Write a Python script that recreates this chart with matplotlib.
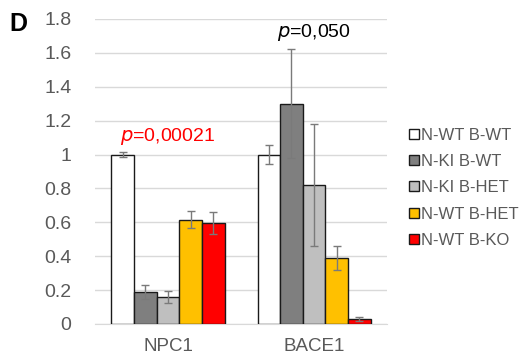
import matplotlib
matplotlib.use("Agg")
import matplotlib.pyplot as plt
import numpy as np
from matplotlib.lines import Line2D

categories = ["NPC1", "BACE1"]
series = ["N-WT B-WT", "N-KI B-WT", "N-KI B-HET", "N-WT B-HET", "N-WT B-KO"]
values = [
    [1.00, 0.19, 0.16, 0.615, 0.595],   # NPC1
    [1.00, 1.30, 0.82, 0.39, 0.03],     # BACE1
]
errors = [
    [0.012, 0.04, 0.035, 0.05, 0.065],
    [0.055, 0.32, 0.36, 0.07, 0.01],
]
colors = ["#ffffff", "#7f7f7f", "#bfbfbf", "#ffc000", "#ff0000"]
yticks = [0, 0.2, 0.4, 0.6, 0.8, 1, 1.2, 1.4, 1.6, 1.8]
ytick_labels = ["0", "0.2", "0.4", "0.6", "0.8", "1", "1.2", "1.4", "1.6", "1.8"]
pvals = ["0,00021", "0,050"]
pcolors = ["#ff0000", "#000000"]

plt.rcParams['font.family'] = ['Arial', 'Liberation Sans', 'DejaVu Sans']

fig = plt.figure(figsize=(5.19, 3.61), dpi=100)
ax = fig.add_axes([0.183, 0.1025, 0.563, 0.845])

vals = np.array(values)
errs = np.array(errors)
x = np.arange(len(categories))
bw = 0.155
for i, s in enumerate(series):
    pos = x + (i - 2) * bw
    ax.bar(pos, vals[:, i], bw, color=colors[i], edgecolor="#1a1a1a", linewidth=1.0, zorder=3, label=s)
    ax.errorbar(pos, vals[:, i], yerr=errs[:, i], fmt="none", ecolor="#7a7a7a", elinewidth=1.0,
                capsize=3, capthick=1.0, zorder=4)

ax.set_xlim(-0.5, 1.5)
ax.set_ylim(0, 1.8)
ax.set_yticks(yticks)
ax.set_yticklabels(ytick_labels)
ax.set_xticks(x)
ax.set_xticklabels(categories)
ax.tick_params(axis="y", length=0, pad=17, labelsize=14, colors="#595959")
ax.tick_params(axis="x", length=0, pad=10, labelsize=13.5, colors="#595959")
ax.grid(axis="y", color="#d9d9d9", linewidth=1.0, zorder=0)
ax.set_axisbelow(True)
for sp in ["left", "right", "top"]:
    ax.spines[sp].set_visible(False)
ax.spines["bottom"].set_color("#d9d9d9")

# p-value annotations
ax.text(x[0], 1.08, "$\\mathit{p}$=" + pvals[0], color=pcolors[0], fontsize=14,
        ha="center", va="baseline")
ax.text(x[1], 1.695, "$\\mathit{p}$=" + pvals[1], color=pcolors[1], fontsize=14,
        ha="center", va="baseline")

handles = [Line2D([0], [0], marker="s", linestyle="none", markersize=6.5,
                  markerfacecolor=c, markeredgecolor="#1a1a1a", markeredgewidth=1.0)
           for c in colors]
leg = fig.legend(handles, series, loc="upper left", bbox_to_anchor=(0.775, 0.665),
                 frameon=False, fontsize=12, handlelength=0.6, handletextpad=0.1,
                 labelspacing=0.68, borderaxespad=0)
for t in leg.get_texts():
    t.set_color("#595959")

fig.text(0.018, 0.968, "D", fontsize=18, fontweight="bold", va="top", ha="left")

fig.savefig("out.png", dpi=100)
